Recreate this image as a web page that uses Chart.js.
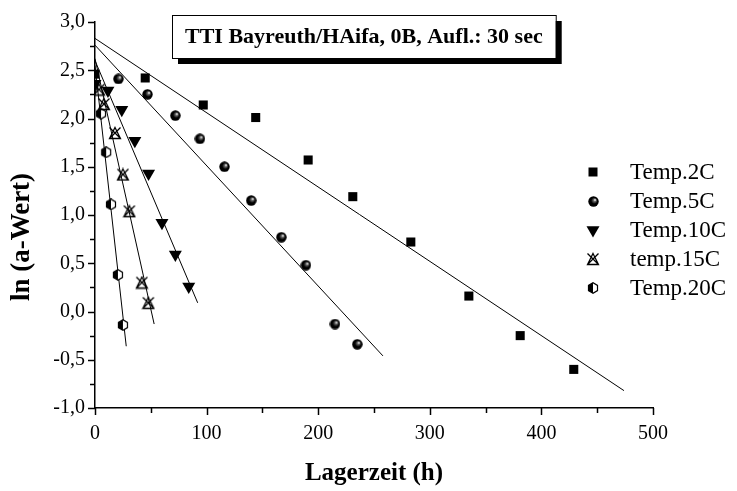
<!DOCTYPE html>
<html>
<head>
<meta charset="utf-8">
<script src="https://cdn.jsdelivr.net/npm/chart.js@4.4.0/dist/chart.umd.min.js"></script>
<style>
  html, body { margin: 0; padding: 0; background: #fff; }
</style>
</head>
<body>
<canvas id="myChart" width="737" height="491"></canvas>
<script>
// measured points: storage time (h) and ln(a-value)
let hours2C = [0, 45, 97, 144, 191, 231, 283, 335, 381, 429];
let ln2C = [2.46, 2.42, 2.14, 2.01, 1.57, 1.19, 0.72, 0.16, -0.25, -0.6];

let hours5C = [21, 47, 72, 94, 116, 140, 167, 189, 215, 235];
let ln5C = [2.41, 2.25, 2.03, 1.79, 1.50, 1.15, 0.77, 0.48, -0.13, -0.34];

let hours10C = [0, 11.6, 24, 35.7, 48, 60, 72, 84];
let ln10C = [2.36, 2.29, 2.09, 1.77, 1.43, 0.92, 0.59, 0.26];

let hours15C = [3.6, 8, 17.9, 25, 30.8, 42, 47.8];
let ln15C = [2.30, 2.15, 1.85, 1.42, 1.04, 0.30, 0.09];

let hours20C = [5.4, 10, 14.3, 20.5, 25];
let ln20C = [2.05, 1.65, 1.11, 0.38, -0.14];

// fitted straight lines (start / end)
let fitX2C = [0, 474], fitY2C = [2.83, -0.82];
let fitX5C = [0, 258], fitY5C = [2.76, -0.46];
let fitX10C = [0, 92], fitY10C = [2.60, 0.09];
let fitX15C = [0, 53], fitY15C = [2.62, -0.13];
let fitX20C = [0, 28], fitY20C = [2.55, -0.36];

let seriesNames = ['Temp.2C', 'Temp.5C', 'Temp.10C', 'temp.15C', 'Temp.20C'];
let titleText = 'TTI Bayreuth/HAifa, 0B, Aufl.: 30 sec';
let yTitle = 'ln (a-Wert)';

let serif = '"Liberation Serif", "Times New Roman", serif';

function toPoints(xs, ys) {
    return xs.map((x, i) => ({ x: x, y: ys[i] }));
}

// custom marker pictures
function makeSphere(d) {
    let c = document.createElement('canvas');
    c.width = c.height = d;
    let g = c.getContext('2d');
    let r = d / 2;
    let grad = g.createRadialGradient(r * 1.3, r * 0.7, 0.2, r, r, r);
    grad.addColorStop(0, '#ffffff');
    grad.addColorStop(0.22, '#666');
    grad.addColorStop(0.55, '#000');
    grad.addColorStop(1, '#000');
    g.fillStyle = grad;
    g.beginPath();
    g.arc(r, r, r - 0.3, 0, Math.PI * 2);
    g.fill();
    return c;
}

function makeCrossTri(d) {
    let c = document.createElement('canvas');
    c.width = c.height = d;
    let g = c.getContext('2d');
    g.strokeStyle = '#000';
    g.lineWidth = 1.3;
    let a = 1.5, b = d - 1.5;
    g.beginPath();
    g.moveTo(d / 2, a); g.lineTo(b, b); g.lineTo(a, b); g.closePath();
    g.moveTo(a, a); g.lineTo(b, b);
    g.moveTo(b, a); g.lineTo(a, b);
    g.stroke();
    return c;
}

function makeHalfHex(d) {
    let c = document.createElement('canvas');
    c.width = c.height = d;
    let g = c.getContext('2d');
    let r = d / 2 - 0.8;
    function hex() {
        g.beginPath();
        for (let k = 0; k < 6; k++) {
            let ang = Math.PI / 2 + k * Math.PI / 3;
            let px = d / 2 + r * Math.cos(ang), py = d / 2 + r * Math.sin(ang);
            if (k === 0) g.moveTo(px, py); else g.lineTo(px, py);
        }
        g.closePath();
    }
    g.fillStyle = '#fff';
    hex(); g.fill();
    g.save();
    g.beginPath(); g.rect(0, 0, d / 2, d); g.clip();
    g.fillStyle = '#000';
    hex(); g.fill();
    g.restore();
    g.strokeStyle = '#000';
    g.lineWidth = 1.2;
    hex(); g.stroke();
    return c;
}

let sphere = makeSphere(11);
let crossTri = makeCrossTri(14);
let halfHex = makeHalfHex(12);

function pointSet(label, xs, ys, style, radius, rotation) {
    return {
        type: 'scatter',
        label: label,
        data: toPoints(xs, ys),
        pointStyle: style,
        pointRadius: radius,
        pointRotation: rotation || 0,
        backgroundColor: '#000',
        borderColor: '#000',
        borderWidth: 0,
        order: 1
    };
}

function fitSet(xs, ys) {
    return {
        type: 'line',
        label: '',
        data: toPoints(xs, ys),
        borderColor: '#000',
        borderWidth: 1,
        pointRadius: 0,
        fill: false,
        tension: 0,
        order: 2,
        isFit: true
    };
}

let datasets = [
    pointSet(seriesNames[0], hours2C, ln2C, 'rect', 6.4),
    pointSet(seriesNames[1], hours5C, ln5C, sphere, 6),
    pointSet(seriesNames[2], hours10C, ln10C, 'triangle', 7.5, 180),
    pointSet(seriesNames[3], hours15C, ln15C, crossTri, 7),
    pointSet(seriesNames[4], hours20C, ln20C, halfHex, 6),
    fitSet(fitX2C, fitY2C),
    fitSet(fitX5C, fitY5C),
    fitSet(fitX10C, fitY10C),
    fitSet(fitX15C, fitY15C),
    fitSet(fitX20C, fitY20C)
];

// tick marks outside the axes, long at labelled values
let tickMarks = {
    id: 'tickMarks',
    afterDraw(chart) {
        let ctx = chart.ctx;
        ctx.save();
        ctx.strokeStyle = '#000';
        ctx.lineWidth = 1.5;
        let xs = chart.scales.x, ys = chart.scales.y;
        xs.ticks.forEach(t => {
            let px = Math.round(xs.getPixelForValue(t.value)) + 0.5;
            let len = (t.value % 100 === 0) ? 7 : 5;
            ctx.beginPath();
            ctx.moveTo(px, ys.bottom);
            ctx.lineTo(px, ys.bottom + len);
            ctx.stroke();
        });
        ys.ticks.forEach(t => {
            let py = Math.round(ys.getPixelForValue(t.value)) + 0.5;
            let major = Math.abs(t.value * 2 - Math.round(t.value * 2)) < 1e-6;
            let len = major ? 7 : 5;
            ctx.beginPath();
            ctx.moveTo(xs.left, py);
            ctx.lineTo(xs.left - len, py);
            ctx.stroke();
        });
        // rotated y axis title
        ctx.save();
        ctx.translate(22, 237);
        ctx.rotate(-Math.PI / 2);
        ctx.font = 'bold 27px ' + serif;
        ctx.fillStyle = '#000';
        ctx.textAlign = 'center';
        ctx.textBaseline = 'middle';
        ctx.fillText(yTitle, 0, 0);
        ctx.restore();
        ctx.restore();
    }
};

// boxed title with drop shadow
let boxTitle = {
    id: 'boxTitle',
    afterDraw(chart) {
        let ctx = chart.ctx;
        ctx.save();
        ctx.font = 'bold 22px ' + serif;
        let w = ctx.measureText(titleText).width;
        let bx = 172, by = 15, bw = w + 26, bh = 43;
        ctx.fillStyle = '#000';
        ctx.fillRect(bx + 6, by + 6, bw, bh);
        ctx.fillStyle = '#fff';
        ctx.fillRect(bx, by, bw, bh);
        ctx.strokeStyle = '#000';
        ctx.lineWidth = 1;
        ctx.strokeRect(bx + 0.5, by + 0.5, bw, bh);
        ctx.fillStyle = '#000';
        ctx.textBaseline = 'middle';
        ctx.textAlign = 'left';
        ctx.fillText(titleText, bx + 13, by + bh / 2 + 1);
        ctx.restore();
    }
};

// legend on the right, drawn from the datasets
let sideLegend = {
    id: 'sideLegend',
    afterDraw(chart) {
        let ctx = chart.ctx;
        ctx.save();
        ctx.font = '23px ' + serif;
        ctx.textBaseline = 'middle';
        ctx.fillStyle = '#000';
        let row = 0;
        chart.data.datasets.forEach(ds => {
            if (ds.isFit) return;
            let y = 172 + row * 29;
            let x = 593;
            let st = ds.pointStyle;
            if (st instanceof HTMLCanvasElement) {
                ctx.drawImage(st, Math.round(x - st.width / 2), Math.round(y - st.height / 2));
            } else if (st === 'rect') {
                ctx.fillRect(x - 4.5, y - 4.5, 9, 9);
            } else if (st === 'triangle') {
                let r = ds.pointRadius;
                ctx.beginPath();
                ctx.moveTo(x, y + r);
                ctx.lineTo(x - r * 0.866, y - r / 2);
                ctx.lineTo(x + r * 0.866, y - r / 2);
                ctx.closePath();
                ctx.fill();
            }
            ctx.fillText(ds.label, 630, y + 1);
            row++;
        });
        ctx.restore();
    }
};

function yLabel(v) {
    if (Math.abs(v * 2 - Math.round(v * 2)) > 1e-6) return '';
    return v.toFixed(1).replace('.', ',');
}

let ctxEl = document.getElementById('myChart').getContext('2d');

let chart = new Chart(ctxEl, {
    type: 'scatter',
    data: { datasets: datasets },
    options: {
        responsive: false,
        animation: false,
        devicePixelRatio: 1,
        layout: { padding: { left: 0, right: 84, top: 20, bottom: 0 } },
        plugins: {
            legend: { display: false },
            title: { display: false },
            tooltip: { enabled: false }
        },
        scales: {
            x: {
                type: 'linear',
                min: 0,
                max: 500,
                ticks: {
                    stepSize: 50,
                    padding: 14,
                    color: '#000',
                    maxRotation: 0,
                    autoSkip: false,
                    font: { family: serif, size: 20 },
                    callback: v => (v % 100 === 0 ? String(v) : '')
                },
                grid: { display: false, drawTicks: false },
                border: { display: true, color: '#000', width: 1.5 },
                title: {
                    display: true,
                    text: 'Lagerzeit (h)',
                    color: '#000',
                    font: { family: serif, size: 25, weight: 'bold' },
                    padding: { top: 0, bottom: 2 }
                },
                afterFit: s => { s.height = 83; }
            },
            y: {
                type: 'linear',
                min: -1,
                max: 3,
                ticks: {
                    stepSize: 0.25,
                    padding: 10,
                    color: '#000',
                    autoSkip: false,
                    font: { family: serif, size: 20 },
                    callback: v => yLabel(v)
                },
                grid: { display: false, drawTicks: false },
                border: { display: true, color: '#000', width: 1.5 },
                afterFit: s => { s.width = 95; }
            }
        }
    },
    plugins: [tickMarks, boxTitle, sideLegend]
});
</script>
</body>
</html>
